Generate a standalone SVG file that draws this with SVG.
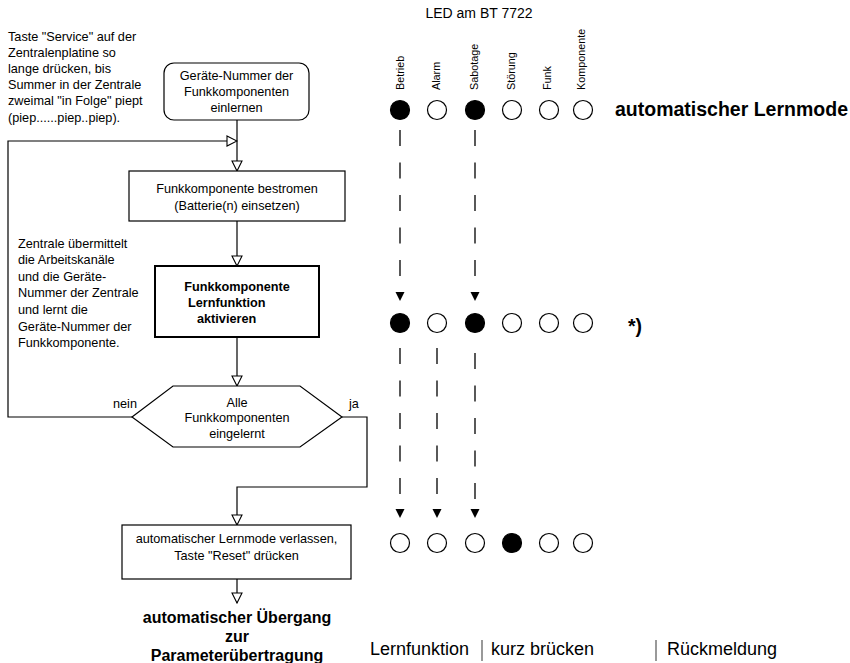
<svg xmlns="http://www.w3.org/2000/svg" xmlns:xlink="http://www.w3.org/1999/xlink" width="850" height="663" viewBox="0 0 850 663">
  <style>
    text { font-family: "Liberation Sans", Arial, sans-serif; fill: #000; }
    .t { font-size: 12.7px; }
    .c { text-anchor: middle; }
    .b { font-weight: bold; }
    .box { fill: #fff; stroke: #000; stroke-width: 1.2; }
    .box-bold { fill: #fff; stroke: #000; stroke-width: 2; }
    .line { fill: none; stroke: #000; stroke-width: 1.2; }
    .dash { fill: none; stroke: #000; stroke-width: 1.3; stroke-dasharray: 16 16.5; }
    .led-on { fill: #000; stroke: #000; stroke-width: 1.2; }
    .led-off { fill: #fff; stroke: #000; stroke-width: 1.2; }
    .lbl { font-size: 10.8px; }
    .sep { stroke: #555; stroke-width: 1.2; }
  </style>
  <defs>
    <marker id="open" markerUnits="userSpaceOnUse" viewBox="-1 -1 12 12" refX="10" refY="5" markerWidth="12" markerHeight="12" orient="auto">
      <path d="M0,0 L10,5 L0,10 Z" fill="#fff" stroke="#000" stroke-width="1.1"/>
    </marker>
    <path id="tri" d="M-4.5,-9 L4.5,-9 L0,0 Z" fill="#000"/>
    <circle id="on" r="9.5" class="led-on"/>
    <circle id="off" r="9.5" class="led-off"/>
  </defs>

  <!-- flowchart connectors -->
  <g id="connectors">
    <path class="line" d="M237,120 V171" marker-end="url(#open)"/>
    <path class="line" d="M132,417 H8 V141 H237" marker-end="url(#open)"/>
    <path class="line" d="M237,221 V266" marker-end="url(#open)"/>
    <path class="line" d="M237,337 V386" marker-end="url(#open)"/>
    <path class="line" d="M342,417 H367 V487 H237 V525" marker-end="url(#open)"/>
    <path class="line" d="M237,579 V603" marker-end="url(#open)"/>
  </g>

  <!-- side notes -->
  <g id="note-service" class="t">
    <text x="8" y="40.5">Taste "Service" auf der</text>
    <text x="8" y="56.7">Zentralenplatine so</text>
    <text x="8" y="72.9">lange drücken, bis</text>
    <text x="8" y="89.1">Summer in der Zentrale</text>
    <text x="8" y="105.3">zweimal "in Folge" piept</text>
    <text x="8" y="121.5">(piep......piep..piep).</text>
  </g>
  <g id="note-zentrale" class="t">
    <text x="18" y="247.5">Zentrale übermittelt</text>
    <text x="18" y="264.1">die Arbeitskanäle</text>
    <text x="18" y="280.7">und die Geräte-</text>
    <text x="18" y="297.3">Nummer der Zentrale</text>
    <text x="18" y="313.9">und lernt die</text>
    <text x="18" y="330.5">Geräte-Nummer der</text>
    <text x="18" y="347.1">Funkkomponente.</text>
  </g>

  <!-- flowchart nodes -->
  <g id="start">
    <rect class="box" x="164" y="63" width="145" height="57" rx="10" ry="10"/>
    <text class="t c" x="236.5" y="79.5">Geräte-Nummer der</text>
    <text class="t c" x="236.5" y="95.5">Funkkomponenten</text>
    <text class="t c" x="236.5" y="111.5">einlernen</text>
  </g>
  <g id="power">
    <rect class="box" x="129" y="171" width="216" height="50"/>
    <text class="t c" x="237" y="192.5">Funkkomponente bestromen</text>
    <text class="t c" x="237" y="209.5">(Batterie(n) einsetzen)</text>
  </g>
  <g id="learn">
    <rect class="box-bold" x="155" y="266" width="164" height="71"/>
    <text class="t c b" x="237" y="290.5">Funkkomponente</text>
    <text class="t b" x="188" y="306.5">Lernfunktion</text>
    <text class="t b" x="197" y="322.5">aktivieren</text>
  </g>
  <g id="decision">
    <polygon class="box" points="132,417 173,386 300,386 342,417 300,447 173,447"/>
    <text class="t c" x="237" y="406.5">Alle</text>
    <text class="t c" x="237" y="422">Funkkomponenten</text>
    <text class="t c" x="237" y="437.5">eingelernt</text>
    <text class="t" x="113" y="407.5">nein</text>
    <text class="t" x="349" y="407.5">ja</text>
  </g>
  <g id="reset">
    <rect class="box" x="122" y="525" width="229" height="54"/>
    <text class="t c" x="236.5" y="542.5">automatischer Lernmode verlassen,</text>
    <text class="t c" x="236.5" y="559.5">Taste "Reset" drücken</text>
  </g>
  <g id="end">
    <text class="b c" x="237" y="623" font-size="16">automatischer Übergang</text>
    <text class="b c" x="237" y="642" font-size="16">zur</text>
    <text class="b c" x="237" y="661" font-size="16">Parameterübertragung</text>
  </g>

  <!-- LED panel -->
  <g id="led-header">
    <text x="479" y="18" font-size="14" class="c">LED am BT 7722</text>
    <text class="lbl" transform="translate(403.5,90) rotate(-90)">Betrieb</text>
    <text class="lbl" transform="translate(440,90) rotate(-90)">Alarm</text>
    <text class="lbl" transform="translate(478,90) rotate(-90)">Sabotage</text>
    <text class="lbl" transform="translate(515,90) rotate(-90)">Störung</text>
    <text class="lbl" transform="translate(551,90) rotate(-90)">Funk</text>
    <text class="lbl" transform="translate(585,90) rotate(-90)">Komponente</text>
  </g>

  <g id="led-row-1">
    <use xlink:href="#on" x="400" y="110"/>
    <use xlink:href="#off" x="437" y="110"/>
    <use xlink:href="#on" x="475" y="110"/>
    <use xlink:href="#off" x="512" y="110"/>
    <use xlink:href="#off" x="549" y="110"/>
    <use xlink:href="#off" x="583" y="110"/>
    <text class="b" x="615" y="115.5" font-size="19.5">automatischer Lernmode</text>
  </g>

  <g id="led-row-2">
    <use xlink:href="#on" x="400" y="323"/>
    <use xlink:href="#off" x="437" y="323"/>
    <use xlink:href="#on" x="475" y="323"/>
    <use xlink:href="#off" x="512" y="323"/>
    <use xlink:href="#off" x="549" y="323"/>
    <use xlink:href="#off" x="583" y="323"/>
    <text class="b" x="628" y="333" font-size="19.5">*)</text>
  </g>

  <g id="led-row-3">
    <use xlink:href="#off" x="400" y="543"/>
    <use xlink:href="#off" x="437" y="543"/>
    <use xlink:href="#off" x="475" y="543"/>
    <use xlink:href="#on" x="512" y="543"/>
    <use xlink:href="#off" x="549" y="543"/>
    <use xlink:href="#off" x="583" y="543"/>
  </g>

  <!-- LED transitions -->
  <g id="led-transitions">
    <line class="dash" x1="400" y1="130" x2="400" y2="278"/>
    <line class="dash" x1="475" y1="130" x2="475" y2="278"/>
    <use xlink:href="#tri" x="400" y="301"/>
    <use xlink:href="#tri" x="475" y="301"/>
    <line class="dash" x1="400" y1="348" x2="400" y2="496"/>
    <line class="dash" x1="437" y1="348" x2="437" y2="496"/>
    <line class="dash" x1="475" y1="353" x2="475" y2="501"/>
    <use xlink:href="#tri" x="400" y="518"/>
    <use xlink:href="#tri" x="437" y="518"/>
    <use xlink:href="#tri" x="475" y="518"/>
  </g>

  <!-- legend -->
  <g id="legend">
    <text x="370" y="655" font-size="18">Lernfunktion</text>
    <line class="sep" x1="482" y1="640" x2="482" y2="661"/>
    <text x="491" y="655" font-size="18">kurz brücken</text>
    <line class="sep" x1="656" y1="640" x2="656" y2="661"/>
    <text x="667" y="655" font-size="18">Rückmeldung</text>
  </g>
</svg>
